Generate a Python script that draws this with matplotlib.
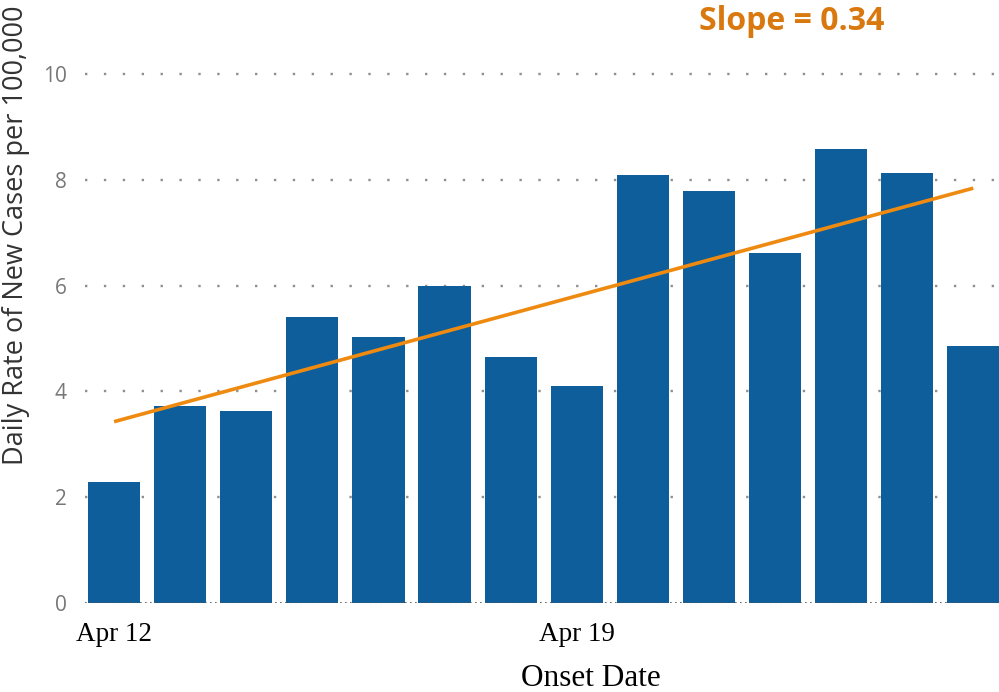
import numpy as np
import matplotlib
matplotlib.use("Agg")
import matplotlib.pyplot as plt

dates = ["Apr 12", "Apr 13", "Apr 14", "Apr 15", "Apr 16", "Apr 17", "Apr 18",
         "Apr 19", "Apr 20", "Apr 21", "Apr 22", "Apr 23", "Apr 24", "Apr 25"]
rates = [2.29, 3.72, 3.63, 5.41, 5.03, 5.99, 4.65, 4.10, 8.09, 7.79, 6.62, 8.58, 8.13, 4.86]
tick_labels = ["Apr 12", "Apr 19"]
y_ticks = [0, 2, 4, 6, 8, 10]

bar_color = "#0E5E9C"
line_color = "#EE8A10"
text_orange = "#D9780F"

fig = plt.figure(figsize=(9.99, 6.92), dpi=100)
ax = fig.add_axes([85/999, (692-603)/692, 914/999, 11*52.9/692])

x = np.arange(len(rates))
ax.bar(x, rates, width=0.79, color=bar_color, zorder=2)

coef = np.polyfit(x, rates, 1)
fit = np.polyval(coef, x)
ax.plot(x, fit, color=line_color, lw=2.6, zorder=3, solid_capstyle="butt")

ax.set_xlim(-0.44, 13.39)
ax.set_ylim(0, 11)

for yv in y_ticks[1:]:
    ax.axhline(yv, color="#8f8f8f", lw=1.7, ls=(0, (1, 7)), zorder=1)
ax.axhline(0, color="#555555", lw=1.2, ls=(0, (1, 2)), zorder=4)

ax.set_yticks(y_ticks)
ax.set_yticklabels([str(v) for v in y_ticks], fontsize=15, color="#777777",
                   family=["Open Sans", "DejaVu Sans"])
ax.tick_params(axis="y", length=0, pad=13)

ax.set_xticks([dates.index(t) for t in tick_labels])
ax.set_xticklabels(tick_labels, fontsize=19.5, color="black",
                   family=["Liberation Serif", "DejaVu Serif"])
ax.tick_params(axis="x", length=0, pad=14)

for s in ax.spines.values():
    s.set_visible(False)

fig.text(16/999, (692-465)/692, "Daily Rate of New Cases per 100,000",
         rotation=90, ha="center", va="bottom", fontsize=19.5, color="#333333",
         family=["Open Sans", "DejaVu Sans"])
fig.text(591/999, 0.008, "Onset Date", ha="center", va="baseline",
         fontsize=22.5, color="black", family=["Liberation Serif", "DejaVu Serif"])
fig.text(792/999, 1 - 22/692, f"Slope = {coef[0]:.2f}", ha="center", va="center",
         fontsize=23, fontweight="bold", color=text_orange,
         family=["Open Sans", "DejaVu Sans"])

fig.savefig("out.png", dpi=100)
